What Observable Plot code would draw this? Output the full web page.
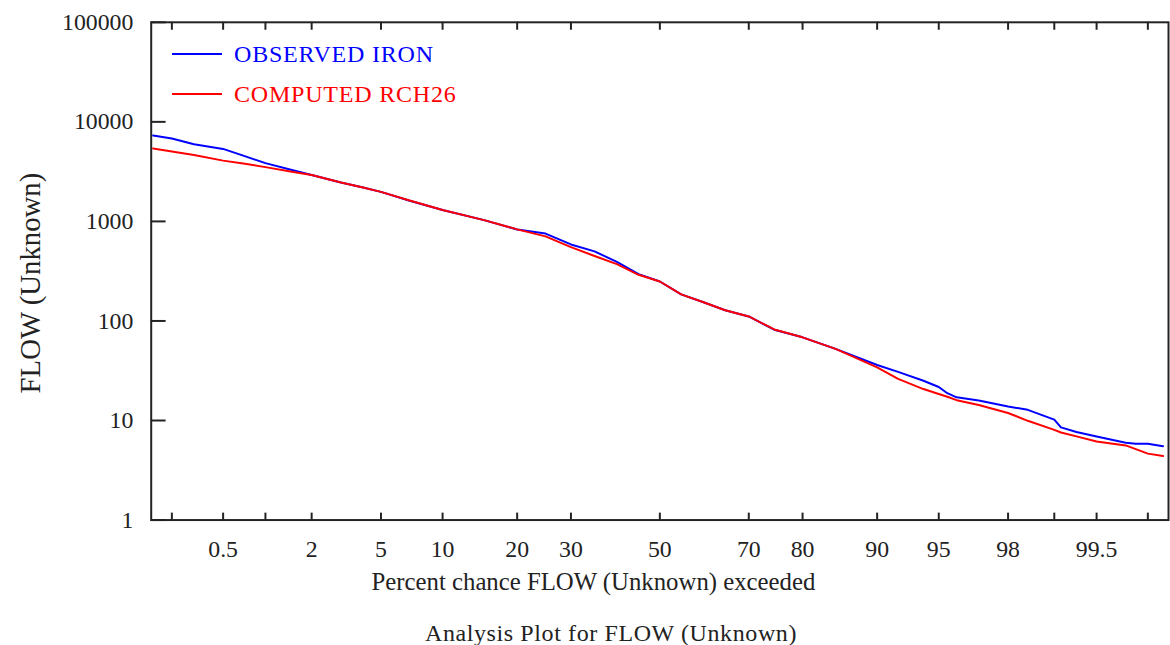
<!DOCTYPE html>
<html><head><meta charset="utf-8">
<script src="https://cdn.jsdelivr.net/npm/d3@7"></script>
<script src="https://cdn.jsdelivr.net/npm/@observablehq/plot@0.6"></script>
<style>
html,body{margin:0;padding:0;background:#fff;}
body{overflow:hidden;width:1170px;height:645px;position:relative;font-family:"Liberation Serif","Times New Roman",serif;}
#chart{position:absolute;left:0;top:0;}
#legend{position:absolute;left:172px;top:34px;font-size:24px;line-height:24px;letter-spacing:0.8px;}
.item{display:flex;align-items:center;height:40px;}
.sw{width:50px;height:2px;margin-right:12px;}
#title{position:absolute;top:621px;left:611px;transform:translateX(-50%);white-space:nowrap;font-size:24px;line-height:24px;color:#222;letter-spacing:0.6px;}
</style></head><body>
<div id="chart"></div>
<div id="legend"></div>
<div id="title">Analysis Plot for FLOW (Unknown)</div>
<script>
// Percent chance exceeded
const percents = [0.14, 0.2, 0.3, 0.5, 0.7, 1, 1.5, 2, 3, 4, 5, 7, 10, 15, 20, 25, 30, 35, 40, 45, 50, 55, 60, 65, 70, 75, 80, 85, 90, 92, 94, 95, 95.5, 96, 97, 98, 98.5, 99, 99.1, 99.3, 99.5, 99.7, 99.75, 99.8, 99.85];
const observedIron = [7300, 6800, 5950, 5350, 4580, 3850, 3280, 2930, 2460, 2190, 1980, 1610, 1300, 1030, 830, 755, 587, 500, 392, 295, 249, 185, 155, 128, 111, 81.7, 68.5, 52.4, 36.1, 30.8, 25.1, 21.7, 18.8, 17.1, 15.9, 13.85, 12.8, 10.2, 8.54, 7.66, 6.91, 5.97, 5.85, 5.85, 5.52];
const computedRch26 = [5400, 5050, 4650, 4080, 3810, 3510, 3160, 2930, 2460, 2190, 1980, 1620, 1300, 1030, 832, 707, 551, 449, 372, 291, 249, 185, 155, 128, 111, 82.1, 68.5, 52.4, 34.2, 26.2, 20.7, 18.45, 17.3, 16.0, 14.3, 11.9, 9.93, 8.06, 7.58, 6.93, 6.15, 5.62, 5.16, 4.65, 4.39];

const seriesNames = ["OBSERVED IRON", "COMPUTED RCH26"];
const seriesColors = ["#0000ff", "#ff0000"];

const xTickValues = [0.2, 0.5, 1, 2, 5, 10, 20, 30, 50, 70, 80, 90, 95, 98, 99, 99.5, 99.8];
const xLabelValues = [0.5, 2, 5, 10, 20, 30, 50, 70, 80, 90, 95, 98, 99.5];
const xLabelTexts = ["0.5", "2", "5", "10", "20", "30", "50", "70", "80", "90", "95", "98", "99.5"];
const yTickValues = [1, 10, 100, 1000, 10000, 100000];
const yTickLabels = ["1", "10", "100", "1000", "10000", "100000"];

const xAxisTitle = "Percent chance FLOW (Unknown) exceeded";
const yAxisTitle = "FLOW (Unknown)";

// normal probability scale: percent -> standard normal deviate (Acklam)
function probit(p) {
  const a = [-3.969683028665376e+01, 2.209460984245205e+02, -2.759285104469687e+02, 1.383577518672690e+02, -3.066479806614716e+01, 2.506628277459239e+00];
  const b = [-5.447609879822406e+01, 1.615858368580409e+02, -1.556989798598866e+02, 6.680131188771972e+01, -1.328068155288572e+01];
  const c = [-7.784894002430293e-03, -3.223964580411365e-01, -2.400758277161838e+00, -2.549732539343734e+00, 4.374664141464968e+00, 2.938163982698783e+00];
  const d = [7.784695709041462e-03, 3.224671290700398e-01, 2.445134137142996e+00, 3.754408661907416e+00];
  const plow = 0.02425, phigh = 1 - plow;
  let q, r;
  if (p < plow) {
    q = Math.sqrt(-2 * Math.log(p));
    return (((((c[0]*q+c[1])*q+c[2])*q+c[3])*q+c[4])*q+c[5]) / ((((d[0]*q+d[1])*q+d[2])*q+d[3])*q+1);
  } else if (p <= phigh) {
    q = p - 0.5; r = q*q;
    return (((((a[0]*r+a[1])*r+a[2])*r+a[3])*r+a[4])*r+a[5])*q / (((((b[0]*r+b[1])*r+b[2])*r+b[3])*r+b[4])*r+1);
  } else {
    q = Math.sqrt(-2 * Math.log(1 - p));
    return -(((((c[0]*q+c[1])*q+c[2])*q+c[3])*q+c[4])*q+c[5]) / ((((d[0]*q+d[1])*q+d[2])*q+d[3])*q+1);
  }
}
const zOf = pct => probit(pct / 100);

const rows = [];
[observedIron, computedRch26].forEach((vals, s) => {
  percents.forEach((p, i) => rows.push({series: seriesNames[s], z: zOf(p), flow: vals[i]}));
});

const labelZ = xLabelValues.map(zOf);
const labelFor = v => { const i = labelZ.findIndex(t => Math.abs(t - v) < 1e-9); return i >= 0 ? xLabelTexts[i] : ""; };
const yLabelFor = v => { const i = yTickValues.indexOf(v); return i >= 0 ? yTickLabels[i] : ""; };

// layout
const W = 1180, H = 610, ML = 152, MR = 2, MT = 22, MB = 86;
const frameW = W - ML - MR, frameH = H - MT - MB;
const axisColor = "#222";

const chart = Plot.plot({
  width: W, height: H,
  marginLeft: ML, marginRight: MR, marginTop: MT, marginBottom: MB,
  style: {fontFamily: "'Liberation Serif','Times New Roman',serif", fontSize: "24px", color: axisColor, background: "#fff"},
  x: {type: "linear", domain: [-3, 3]},
  y: {type: "log", domain: [1, 100000]},
  color: {domain: seriesNames, range: seriesColors},
  marks: [
    Plot.line(rows, {x: "z", y: "flow", z: "series", stroke: "series", strokeWidth: 2}),
    Plot.frame({stroke: axisColor, strokeWidth: 2}),
    // inward tick marks
    Plot.ruleX(xTickValues.map(zOf), {x: d => d, insetTop: frameH - 7, stroke: axisColor, strokeWidth: 2}),
    Plot.ruleX(xTickValues.map(zOf), {x: d => d, insetBottom: frameH - 8, stroke: axisColor, strokeWidth: 2}),
    Plot.ruleY(yTickValues, {y: d => d, insetRight: frameW - 15, stroke: axisColor, strokeWidth: 2}),
    // tick labels
    Plot.axisX(labelZ, {anchor: "bottom", tickSize: 0, tickPadding: 20, tickFormat: labelFor, fontSize: 24, label: null}),
    Plot.axisY(yTickValues, {anchor: "left", tickSize: 0, tickPadding: 18, tickFormat: yLabelFor, fontSize: 24, label: null}),
    // axis titles
    Plot.text([xAxisTitle], {text: d => d, frameAnchor: "bottom", textAnchor: "middle", dx: -67, dy: 63, fontSize: 25, lineAnchor: "middle", fill: axisColor}),
    Plot.text([yAxisTitle], {text: d => d, frameAnchor: "left", textAnchor: "middle", rotate: -90, dx: -121, dy: 12, fontSize: 29, lineAnchor: "middle", fill: axisColor})
  ]
});
document.getElementById("chart").appendChild(chart);

const legend = document.getElementById("legend");
seriesNames.forEach((name, i) => {
  const item = document.createElement("div");
  item.className = "item";
  const sw = document.createElement("div");
  sw.className = "sw";
  sw.style.background = seriesColors[i];
  const t = document.createElement("span");
  t.textContent = name;
  t.style.color = seriesColors[i];
  item.appendChild(sw); item.appendChild(t);
  legend.appendChild(item);
});
</script>
</body></html>
